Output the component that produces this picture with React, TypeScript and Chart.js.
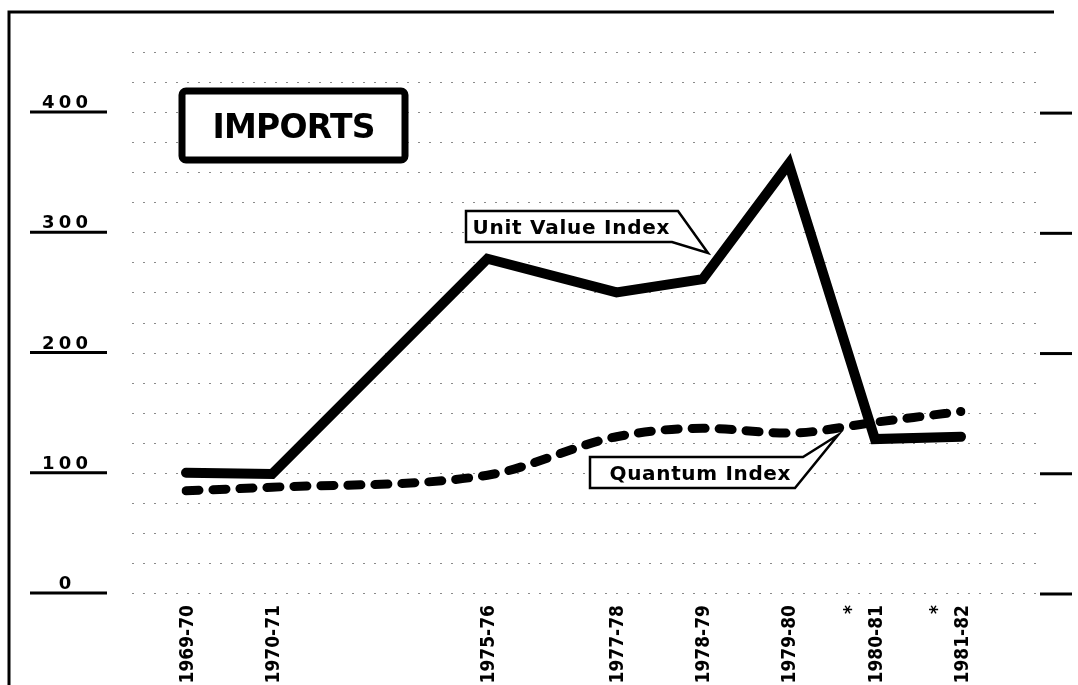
import React, { useEffect, useRef } from 'react';
import { Chart, registerables } from 'chart.js';

Chart.register(...registerables);

// Category slots (half-year steps so the original irregular spacing is kept)
const slots = ['1969-70', '', '1970-71', '', '', '', '', '1975-76', '', '', '1977-78', '', '1978-79', '', '1979-80', '', '1980-81', '', '1981-82'];
const starred = ['1980-81', '1981-82'];
const unitValueIndex = [100, null, 99, null, null, null, null, 278, null, null, 250, null, 261, null, 357, null, 128, null, 130];
const quantumIndex = [85, null, 88, null, null, null, null, 98, null, null, 130, null, 137, null, 133, null, 142, null, 151];
const yTickValues = [0, 100, 200, 300, 400];
const yMin = 0;
const yMax = 450;
const gridStep = 25;
const title = 'IMPORTS';
const unitLabel = 'Unit Value Index';
const quantumLabel = 'Quantum Index';

function fitText(ctx: CanvasRenderingContext2D, text: string, cx: number, baseline: number, targetW: number) {
  (ctx as any).letterSpacing = '0px';
  const w = ctx.measureText(text).width;
  const n = text.length;
  let ls = n > 1 ? (targetW - w) / (n - 1) : 0;
  if (ls < -2) ls = -2;
  (ctx as any).letterSpacing = ls + 'px';
  const total = w + ls * (n - 1);
  ctx.textAlign = 'left';
  ctx.fillText(text, cx - total / 2, baseline);
  (ctx as any).letterSpacing = '0px';
}

const decor = {
  id: 'decor',
  beforeDatasetsDraw(chart: any) {
    const { ctx } = chart;
    const y = chart.scales.y;
    ctx.save();
    ctx.strokeStyle = '#8a8a8a';
    ctx.lineWidth = 1;
    ctx.setLineDash([2, 9]);
    for (let v = yMin; v <= yMax; v += gridStep) {
      const py = Math.round(y.getPixelForValue(v)) + 0.5;
      ctx.beginPath();
      ctx.moveTo(132, py);
      ctx.lineTo(1036, py);
      ctx.stroke();
    }
    ctx.restore();
  },
  afterDatasetsDraw(chart: any) {
    const { ctx } = chart;
    const y = chart.scales.y;
    ctx.save();
    ctx.strokeStyle = '#000';
    ctx.fillStyle = '#000';
    // frame
    ctx.lineWidth = 3;
    ctx.beginPath();
    ctx.moveTo(9, 685);
    ctx.lineTo(9, 12);
    ctx.lineTo(1054, 12);
    ctx.stroke();

    // y labels with underlines, right ticks
    ctx.font = 'bold 18px "DejaVu Sans", sans-serif';
    ctx.textBaseline = 'alphabetic';
    yTickValues.forEach((v) => {
      const py = y.getPixelForValue(v);
      ctx.lineWidth = 3;
      ctx.beginPath();
      ctx.moveTo(30, py);
      ctx.lineTo(107, py);
      ctx.stroke();
      ctx.beginPath();
      ctx.moveTo(1040, py + 1);
      ctx.lineTo(1072, py + 1);
      ctx.stroke();
      const s = String(v);
      fitText(ctx, s, 65, py - 4, s.length > 1 ? 46 : 11);
    });

    // IMPORTS box
    ctx.lineWidth = 7;
    ctx.fillStyle = '#fff';
    ctx.beginPath();
    ctx.roundRect(182, 91, 223, 69, 4);
    ctx.fill();
    ctx.stroke();
    ctx.fillStyle = '#000';
    ctx.font = 'bold 33px "DejaVu Sans", sans-serif';
    fitText(ctx, title, 294, 138, 163);

    // Unit Value Index tag
    ctx.lineWidth = 2.5;
    ctx.fillStyle = '#fff';
    ctx.beginPath();
    ctx.moveTo(466, 211);
    ctx.lineTo(678, 211);
    ctx.lineTo(708, 253);
    ctx.lineTo(672, 242);
    ctx.lineTo(466, 242);
    ctx.closePath();
    ctx.fill();
    ctx.stroke();
    ctx.fillStyle = '#000';
    ctx.font = 'bold 20px "DejaVu Sans", sans-serif';
    fitText(ctx, unitLabel, 571, 234, 197);

    // Quantum Index tag
    ctx.fillStyle = '#fff';
    ctx.beginPath();
    ctx.moveTo(590, 457);
    ctx.lineTo(803, 457);
    ctx.lineTo(838, 435);
    ctx.lineTo(795, 488);
    ctx.lineTo(590, 488);
    ctx.closePath();
    ctx.fill();
    ctx.stroke();
    ctx.fillStyle = '#000';
    ctx.font = 'bold 20px "DejaVu Sans", sans-serif';
    fitText(ctx, quantumLabel, 700, 480, 181);
    ctx.restore();
  },
};

export default function App() {
  const ref = useRef<HTMLCanvasElement | null>(null);
  useEffect(() => {
    document.body.style.margin = '0';
    const canvas = ref.current!;
    const chart = new Chart(canvas, {
      type: 'line',
      data: {
        labels: slots,
        datasets: [
          {
            label: unitLabel,
            data: unitValueIndex,
            borderColor: '#000',
            borderWidth: 10,
            tension: 0,
            spanGaps: true,
            pointRadius: 0,
            borderJoinStyle: 'miter',
            borderCapStyle: 'round',
          },
          {
            label: quantumLabel,
            data: quantumIndex,
            borderColor: '#000',
            borderWidth: 9,
            tension: 0.4,
            cubicInterpolationMode: 'monotone',
            spanGaps: true,
            pointRadius: 0,
            borderDash: [13, 14],
            borderCapStyle: 'round',
          },
        ],
      },
      options: {
        responsive: false,
        animation: false,
        layout: { padding: { left: 186, right: 117, top: 52, bottom: 2 } },
        plugins: { legend: { display: false }, tooltip: { enabled: false } },
        scales: {
          x: {
            type: 'category',
            grid: { display: false },
            border: { display: false },
            afterFit: (scale: any) => { scale.height = 90; },
            ticks: {
              autoSkip: false,
              maxRotation: 90,
              minRotation: 90,
              padding: 4,
              labelOffset: -23,
              color: '#000',
              font: { family: '"DejaVu Sans Condensed", "DejaVu Sans", sans-serif', size: 19, weight: 'bold', lineHeight: 1.3 },
              callback: (_v: any, i: number) => {
                const l = slots[i];
                if (!l) return '';
                return starred.includes(l) ? ['*', l] : ['', l];
              },
            },
          },
          y: {
            display: false,
            min: yMin,
            max: yMax,
          },
        },
      },
      plugins: [decor],
    });
    return () => chart.destroy();
  }, []);
  return (
    <div style={{ width: 1078, height: 685, overflow: 'hidden', background: '#fff' }}>
      <canvas ref={ref} width={1078} height={685} style={{ display: 'block' }} />
    </div>
  );
}
